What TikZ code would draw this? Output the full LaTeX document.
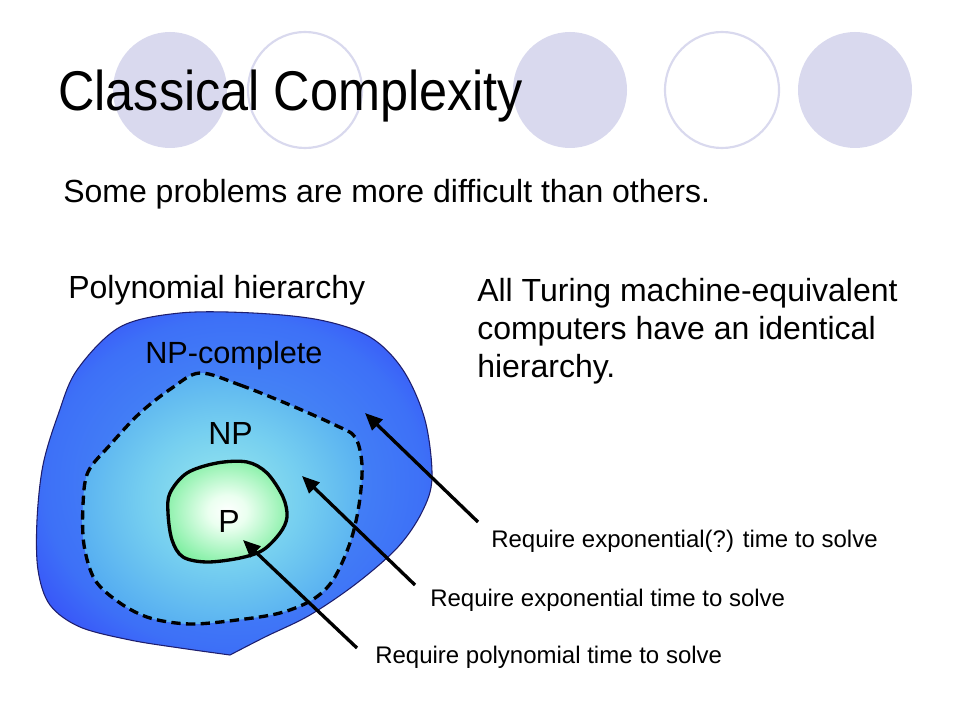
\documentclass[tikz,border=0pt]{standalone}
\usepackage{fontspec}
\setmainfont{Liberation Sans}
\newfontfamily\titlefont[FakeStretch=0.9]{Liberation Sans}
\usetikzlibrary{arrows.meta}
\definecolor{lav}{RGB}{217,217,238}
\definecolor{rimline}{RGB}{30,30,110}
\pgfdeclareradialshading{npcshade}{\pgfpointorigin}{rgb(0bp)=(0.3,0.6,0.95); rgb(24bp)=(0.24,0.44,0.97); rgb(36bp)=(0.2,0.22,0.98); rgb(50bp)=(0.2,0.2,0.98)}
\pgfdeclareradialshading{npshade}{\pgfpointorigin}{rgb(0bp)=(0.6,0.91,0.93); rgb(14bp)=(0.46,0.81,0.94); rgb(38bp)=(0.24,0.58,0.95); rgb(50bp)=(0.22,0.55,0.95)}
\pgfdeclareradialshading{pshade}{\pgfpointorigin}{rgb(0bp)=(1,1,1); rgb(8bp)=(0.92,1,0.94); rgb(30bp)=(0.45,0.93,0.6); rgb(50bp)=(0.33,0.92,0.52)}
\tikzset{
  deco/.style={fill=lav},
  decoring/.style={draw=lav,line width=1.6,fill=white},
  txt/.style={anchor=base west,inner sep=0pt,font=\fontsize{24}{28.5}\selectfont},
  lbl/.style={anchor=base west,inner sep=0pt,font=\fontsize{18}{21}\selectfont},
  pointer/.style={line width=2.5pt,-{Triangle[length=13pt,width=11pt]}}
}
\begin{document}
\begin{tikzpicture}[x=0.75pt,y=-0.75pt]
\useasboundingbox[fill=white] (0,0) rectangle (960,720);
% decorative circles
\fill[deco] (170,90) ellipse [x radius=57,y radius=58];
\draw[decoring] (305,90) ellipse [x radius=57,y radius=58];
\fill[deco] (570,90) ellipse [x radius=57,y radius=58];
\draw[decoring] (722,90) ellipse [x radius=57,y radius=58];
\fill[deco] (855,90) ellipse [x radius=57,y radius=58];
% texts
\node[anchor=base west,inner sep=0pt,font=\titlefont\fontsize{42}{48}\selectfont] (title) at (58,111) {Classical Complexity};
\node[txt] (sub) at (63,203) {Some problems are more difficult than others.};
\node[txt] (poly) at (68,298) {Polynomial hierarchy};
\node[txt,align=left,anchor=north west] (turing) at (477,278) {All Turing machine-equivalent\\computers have an identical\\hierarchy.};
% outer blob (NP-complete)
\shade[shading=npcshade,draw=rimline,line width=0.8]
  plot[smooth,tension=0.55] coordinates {(230,655) (180,648) (130,640) (80,627) (50,605) (38,570) (37,520) (43,465) (58,415) (77,370) (120,327) (180,313) (253,313) (320,320) (370,337) (403,370) (425,420) (432,478) (422,512) (398,547) (357,583) (310,615) (265,637) (230,655)} -- cycle;
% NP region
\shade[shading=npshade,draw=black,line width=2.5pt,dash pattern=on 7pt off 4pt]
  plot[smooth cycle,tension=0.55] coordinates {(200,373) (240,385) (290,405) (335,425) (355,437) (362,465) (359,505) (350,543) (333,580) (312,600) (280,613) (237,620) (190,624) (150,618) (120,603) (95,580) (84,545) (83,505) (88,472) (110,445) (140,413) (172,388)};
% P region
\shade[shading=pshade,draw=black,line width=2.5pt]
  plot[smooth cycle,tension=0.55] coordinates {(170,493) (187,473) (217,463) (247,462) (267,473) (283,497) (287,517) (280,533) (263,550) (240,558) (207,562) (183,557) (172,540) (168,513)};
\node[txt,font=\fontsize{23}{27}\selectfont] (npc) at (145,363) {NP-complete};
\node[txt] (np) at (208,444) {NP};
\node[txt] (p) at (218,532) {P};
% labels
\node[lbl] (l1) at (491,547) {Require exponential(?) time to solve};
\node[lbl] (l2) at (430,606) {Require exponential time to solve};
\node[lbl] (l3) at (375,663) {Require polynomial time to solve};
% arrows
\coordinate (t1) at (478,522); \coordinate (h1) at (365,413);
\coordinate (t2) at (415,585); \coordinate (h2) at (302,476);
\coordinate (t3) at (357,648); \coordinate (h3) at (243,540);
\draw[pointer] (t1) -- (h1);
\draw[pointer] (t2) -- (h2);
\draw[pointer] (t3) -- (h3);
\end{tikzpicture}
\end{document}
